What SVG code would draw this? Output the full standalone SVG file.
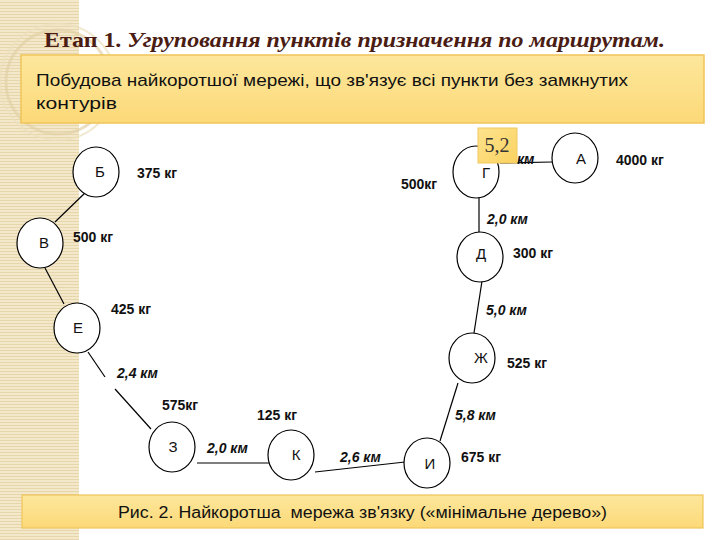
<svg xmlns="http://www.w3.org/2000/svg" width="720" height="540" viewBox="0 0 720 540">
<defs>
  <pattern id="stripes" width="6" height="3" patternUnits="userSpaceOnUse">
    <rect width="6" height="3" fill="#f4e8cb"/>
    <rect y="2" width="6" height="1" fill="#e7d6ac"/>
  </pattern>
  <linearGradient id="yel" x1="0" y1="0" x2="0" y2="1">
    <stop offset="0" stop-color="#fde79c"/>
    <stop offset="1" stop-color="#fcd978"/>
  </linearGradient>
  <linearGradient id="yel2" x1="0" y1="0" x2="1" y2="1">
    <stop offset="0" stop-color="#fde38e"/>
    <stop offset="1" stop-color="#fbd260"/>
  </linearGradient>
</defs>
<style>
  .node { fill: #ffffff; stroke: #000000; stroke-width: 1.2; }
  .nl { font-family: "Liberation Sans", Arial, sans-serif; font-size: 15px; fill: #111; text-anchor: middle; }
  .w { font-family: "Liberation Sans", Arial, sans-serif; font-size: 14px; font-weight: bold; fill: #111; }
  .d { font-family: "Liberation Sans", Arial, sans-serif; font-size: 14px; font-weight: bold; font-style: italic; fill: #111; }
  .edge { stroke: #000; stroke-width: 1.2; fill: none; }
</style>
<rect width="720" height="540" fill="#ffffff"/>
<rect x="0" y="0" width="79" height="540" fill="url(#stripes)"/>
<circle cx="58" cy="82" r="52" fill="none" stroke="#e3d2a6" stroke-width="3" opacity="0.7"/>
<circle cx="58" cy="82" r="58" fill="none" stroke="#ecdfbd" stroke-width="2" opacity="0.7"/>

<text x="44" y="47" font-family="'Liberation Serif', 'Times New Roman', serif" font-size="21" font-weight="bold" fill="#4a1c14" textLength="621" lengthAdjust="spacingAndGlyphs">Етап 1. <tspan font-style="italic">Угруповання пунктів призначення по маршрутам.</tspan></text>

<rect x="21" y="55" width="683" height="68" fill="url(#yel)" stroke="#efc55a" stroke-width="1.5"/>
<text x="36" y="86" font-family="'Liberation Sans', Arial, sans-serif" font-size="17" fill="#111" textLength="592" lengthAdjust="spacingAndGlyphs">Побудова найкоротшої мережі, що зв'язує всі пункти без замкнутих</text>
<text x="36" y="109" font-family="'Liberation Sans', Arial, sans-serif" font-size="17" fill="#111" textLength="81" lengthAdjust="spacingAndGlyphs">контурів</text>

<g id="connectors">
  <line class="edge" x1="87" y1="191" x2="55" y2="222"/>
  <line class="edge" x1="45" y1="268" x2="64" y2="304"/>
  <line class="edge" x1="88" y1="352" x2="105" y2="377"/>
  <line class="edge" x1="115" y1="389" x2="151" y2="429"/>
  <line class="edge" x1="197" y1="463" x2="269" y2="463"/>
  <line class="edge" x1="315" y1="472" x2="405" y2="462"/>
  <line class="edge" x1="440" y1="441" x2="458" y2="383"/>
  <line class="edge" x1="474" y1="333" x2="482" y2="281"/>
  <line class="edge" x1="479" y1="197" x2="479" y2="232"/>
  <line class="edge" x1="500" y1="163" x2="552" y2="162"/>
</g>

<g id="node-B"><ellipse class="node" cx="96" cy="172" rx="23" ry="25"/><text class="nl" x="100" y="177">Б</text></g>
<g id="node-V"><ellipse class="node" cx="40" cy="243" rx="23" ry="25"/><text class="nl" x="44" y="248">В</text></g>
<g id="node-E"><ellipse class="node" cx="77" cy="328" rx="23" ry="25"/><text class="nl" x="78" y="333">Е</text></g>
<g id="node-Z"><ellipse class="node" cx="172" cy="447" rx="23" ry="25"/><text class="nl" x="173" y="452">З</text></g>
<g id="node-K"><ellipse class="node" cx="291" cy="455" rx="23" ry="25"/><text class="nl" x="296" y="460">К</text></g>
<g id="node-I"><ellipse class="node" cx="427" cy="463" rx="23" ry="25"/><text class="nl" x="430" y="469">И</text></g>
<g id="node-Zh"><ellipse class="node" cx="472" cy="358" rx="23" ry="25"/><text class="nl" x="481" y="363">Ж</text></g>
<g id="node-D"><ellipse class="node" cx="480" cy="257" rx="23" ry="25"/><text class="nl" x="481" y="259">Д</text></g>
<g id="node-G"><ellipse class="node" cx="476" cy="172" rx="23" ry="26"/><text class="nl" x="486" y="178">Г</text></g>
<g id="node-A"><ellipse class="node" cx="575" cy="158" rx="23" ry="25"/><text class="nl" x="581" y="164">А</text></g>

<g id="weights">
  <text class="w" x="137" y="178">375 кг</text>
  <text class="w" x="73" y="242">500 кг</text>
  <text class="w" x="111" y="314">425 кг</text>
  <text class="w" x="162" y="410">575кг</text>
  <text class="w" x="257" y="420">125 кг</text>
  <text class="w" x="461" y="462">675 кг</text>
  <text class="w" x="507" y="368">525 кг</text>
  <text class="w" x="513" y="258">300 кг</text>
  <text class="w" x="401" y="189">500кг</text>
  <text class="w" x="616" y="165">4000 кг</text>
</g>

<g id="distances">
  <text class="d" x="487" y="224">2,0 км</text>
  <text class="d" x="486" y="315">5,0 км</text>
  <text class="d" x="455" y="420">5,8 км</text>
  <text class="d" x="340" y="462">2,6 км</text>
  <text class="d" x="207" y="453">2,0 км</text>
  <text class="d" x="117" y="378">2,4 км</text>
  <text class="d" x="517" y="164">км</text>
</g>

<g id="label-52">
  <rect x="478" y="128" width="39" height="35" fill="url(#yel2)" stroke="#f0c860" stroke-width="1"/>
  <text x="497" y="152" font-family="'Liberation Serif', 'Times New Roman', serif" font-size="20" fill="#333" text-anchor="middle">5,2</text>
</g>

<rect x="22" y="495" width="681" height="33" fill="url(#yel)" stroke="#efc55a" stroke-width="1.2"/>
<text x="118" y="518" xml:space="preserve" font-family="'Liberation Sans', Arial, sans-serif" font-size="16" fill="#111" textLength="489" lengthAdjust="spacingAndGlyphs">Рис. 2. Найкоротша  мережа зв'язку («мінімальне дерево»)</text>
</svg>
